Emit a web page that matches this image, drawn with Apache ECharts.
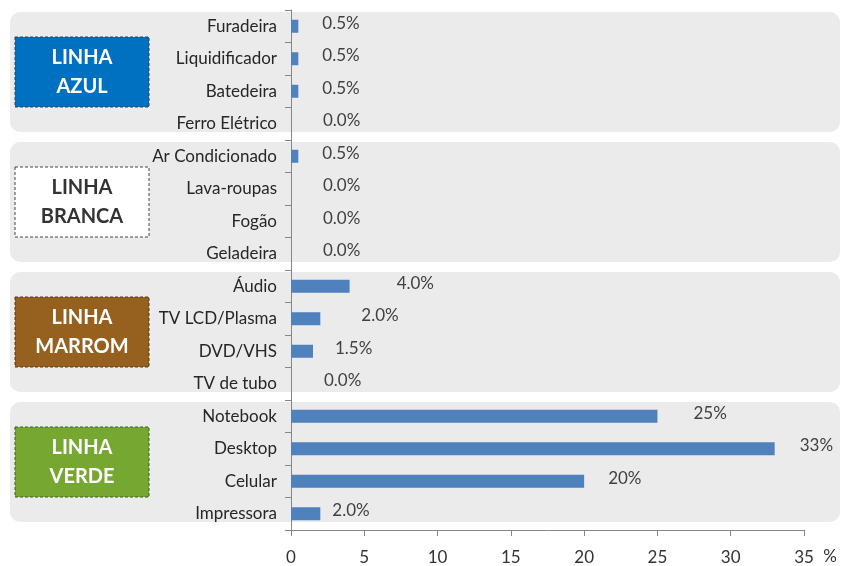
<!DOCTYPE html>
<html lang="pt">
<head>
<meta charset="UTF-8">
<title>Linhas de produto</title>
<script src="https://cdn.jsdelivr.net/npm/echarts@6/dist/echarts.min.js"></script>
<style>
  html, body { margin: 0; padding: 0; background: #fff; }
  #main { width: 841px; height: 566px; }
</style>
</head>
<body>
<div id="main"></div>
<script>
// produtos (de cima para baixo)
var produtos = ['Furadeira', 'Liquidificador', 'Batedeira', 'Ferro Elétrico',
  'Ar Condicionado', 'Lava-roupas', 'Fogão', 'Geladeira',
  'Áudio', 'TV LCD/Plasma', 'DVD/VHS', 'TV de tubo',
  'Notebook', 'Desktop', 'Celular', 'Impressora'];
var valores = [0.5, 0.5, 0.5, 0, 0.5, 0, 0, 0, 4, 2, 1.5, 0, 25, 33, 20, 2];
var xTicks = [0, 5, 10, 15, 20, 25, 30, 35];
// grupos: nome, primeira e ultima linha
var grupos = ['LINHA\nAZUL', 'LINHA\nBRANCA', 'LINHA\nMARROM', 'LINHA\nVERDE'];
var grupoInicio = [0, 4, 8, 12];
var grupoFim = [3, 7, 11, 15];

// estilo
var corGrupo = ['#0070c0', '#ffffff', '#96601f', '#76a731'];
var corTextoGrupo = ['#fff', '#333', '#fff', '#fff'];
var bordaGrupo = ['#2f4050', '#444', '#4a3a20', '#3f5a25'];
var labelGap = [24, 24, 24, 32, 24, 32, 32, 32, 47, 41, 22, 33, 36, 25, 24, 12];

var myChart = echarts.init(document.getElementById('main'));

function fmt(v) {
  return v >= 10 ? Math.round(v) + '%' : v.toFixed(1) + '%';
}

var dados = valores.map(function (v, i) {
  return { value: v, label: { distance: labelGap[i] } };
});

var option = {
  animation: false,
  textStyle: { fontFamily: 'Lato' },
  grid: { left: 291, right: 37, top: 10, bottom: 36 },
  xAxis: {
    type: 'value',
    min: 0,
    max: 35,
    interval: 5,
    axisLine: { show: true, lineStyle: { color: '#868686' } },
    axisTick: { show: true, length: 6, lineStyle: { color: '#868686' } },
    axisLabel: {
      fontSize: 17, color: '#333', margin: 19,
      formatter: function (v) { return xTicks.indexOf(v) >= 0 ? v : ''; }
    },
    splitLine: { show: false }
  },
  yAxis: {
    type: 'category',
    inverse: true,
    data: produtos,
    axisLine: { show: true, lineStyle: { color: '#868686' } },
    axisTick: { show: true, length: 6, lineStyle: { color: '#868686' } },
    axisLabel: { fontSize: 17, color: '#262626', margin: 14 }
  },
  series: [{
    type: 'bar',
    data: dados,
    barWidth: 13,
    itemStyle: { color: '#4f81bd' },
    label: {
      show: true,
      position: 'right',
      offset: [0, -3],
      fontSize: 17,
      color: '#404040',
      formatter: function (p) { return fmt(p.value); }
    }
  }]
};
myChart.setOption(option);

// fundos dos grupos e caixas com os nomes
var y0 = myChart.convertToPixel({ yAxisIndex: 0 }, 0);
var y1 = myChart.convertToPixel({ yAxisIndex: 0 }, 1);
var rowH = y1 - y0;
var elementos = [];
grupos.forEach(function (nome, g) {
  var topo = myChart.convertToPixel({ yAxisIndex: 0 }, grupoInicio[g]) - rowH / 2 + 2;
  var base = myChart.convertToPixel({ yAxisIndex: 0 }, grupoFim[g]) + rowH / 2 - 8;
  var meio = (topo + base) / 2;
  elementos.push({
    type: 'rect', z: -10, silent: true,
    shape: { x: 10, y: topo, width: 830, height: base - topo, r: 10 },
    style: { fill: '#ebebeb' }
  });
  elementos.push({
    type: 'rect', z: -5, silent: true,
    shape: { x: 15, y: meio - 35, width: 134, height: 70 },
    style: { fill: corGrupo[g], stroke: bordaGrupo[g], lineWidth: 1, lineDash: [3, 2] }
  });
  elementos.push({
    type: 'text', z: -4, silent: true,
    x: 82, y: meio,
    style: {
      text: nome, fill: corTextoGrupo[g], fontFamily: 'Lato', fontWeight: 'bold',
      fontSize: 20, lineHeight: 29, align: 'center', verticalAlign: 'middle'
    }
  });
});
// unidade do eixo x
var xFim = myChart.convertToPixel({ xAxisIndex: 0 }, 35);
var yEixo = myChart.convertToPixel({ yAxisIndex: 0 }, produtos.length - 1) + rowH / 2;
elementos.push({
  type: 'text', silent: true,
  x: xFim + 26, y: yEixo + 27,
  style: { text: '%', fill: '#333', fontFamily: 'Lato', fontSize: 17, align: 'center', verticalAlign: 'middle' }
});
myChart.setOption({ graphic: elementos });
</script>
</body>
</html>
